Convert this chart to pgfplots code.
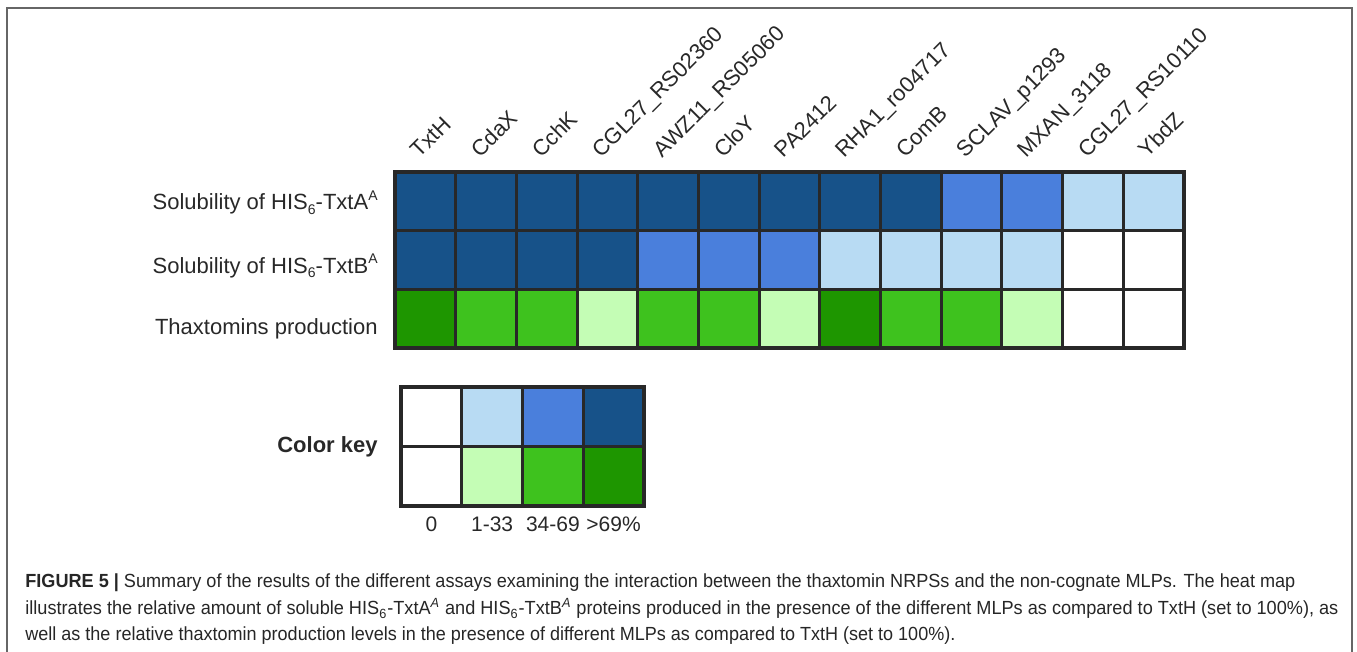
\documentclass[border=0pt]{standalone}
\usepackage{fontspec}
\setmainfont{Liberation Sans}
\usepackage{graphicx}
\usepackage{pgfplots}
\usepackage{pgfplotstable}
\pgfplotsset{compat=1.18}

\definecolor{gridc}{RGB}{40,40,40}
\definecolor{txt}{RGB}{40,40,40}

\newcommand{\sbs}[1]{\raisebox{-0.35ex}{\fontsize{7}{7}\selectfont #1}}
\newcommand{\sps}[1]{\raisebox{0.85ex}{\fontsize{7}{7}\selectfont #1}}

% codes: 0 white; 1,2,3 blues (1-33, 34-69, >69%); 4,5,6 greens (1-33, 34-69, >69%)
\pgfplotstableread{
x y c
0 0 6
1 0 5
2 0 5
3 0 4
4 0 5
5 0 5
6 0 4
7 0 6
8 0 5
9 0 5
10 0 4
11 0 0
12 0 0
0 1 3
1 1 3
2 1 3
3 1 3
4 1 2
5 1 2
6 1 2
7 1 1
8 1 1
9 1 1
10 1 1
11 1 0
12 1 0
0 2 3
1 2 3
2 2 3
3 2 3
4 2 3
5 2 3
6 2 3
7 2 3
8 2 3
9 2 2
10 2 2
11 2 1
12 2 1
}\heat

\pgfplotstableread{
x y c
0 0 0
1 0 4
2 0 5
3 0 6
0 1 0
1 1 1
2 1 2
3 1 3
}\keytab

\pgfplotsset{
  heatstyle/.style={
    scale only axis,
    axis on top,
    colormap={key}{rgb255=(255,255,255) rgb255=(184,219,243) rgb255=(74,127,220) rgb255=(23,82,137) rgb255=(196,253,181) rgb255=(62,194,30) rgb255=(30,150,0)},
    colormap access=direct,
    point meta=explicit,
    major tick length=0pt, minor tick length=0pt,
    xminorgrids=true, yminorgrids=true,
    minor grid style={line width=1.5pt, draw=gridc},
    axis line style={line width=2pt, draw=gridc},
    tick label style={font=\fontsize{11}{13}\selectfont, text=txt},
  }
}

\begin{document}
\begin{tikzpicture}
\path[use as bounding box] (0,0) rectangle (678.5pt,326pt);
\draw[line width=1pt, draw=black!60] (3.5pt,0pt) -- (3.5pt,322pt) -- (676pt,322pt) -- (676pt,0pt);

\begin{axis}[heatstyle,
  at={(197.5pt,152pt)}, anchor=south west,
  width=394.5pt, height=88pt,
  xmin=-0.5, xmax=12.5, ymin=-0.5, ymax=2.5,
  xtick={0,...,12},
  xticklabels={TxtH,CdaX,CchK,CGL27\_RS02360,AWZ11\_RS05060,CloY,PA2412,RHA1\_ro04717,ComB,SCLAV\_p1293,MXAN\_3118,CGL27\_RS10110,YbdZ},
  xticklabel pos=upper,
  xticklabel style={inner sep=0pt, xshift=-3pt, yshift=6.5pt, rotate=45, anchor=base west},
  ytick={-0.17,0.9,1.98},
  yticklabels={Thaxtomins production,Solubility of HIS\sbs{6}-TxtB\sps{A},Solubility of HIS\sbs{6}-TxtA\sps{A}},
  yticklabel style={inner sep=0pt, xshift=-8.5pt, anchor=east},
  minor xtick={-0.5,0.5,...,12.5},
  minor ytick={-0.5,0.5,1.5,2.5},
]
\addplot[matrix plot*, mesh/cols=13, point meta=explicit] table[x=x, y=y, meta=c] {\heat};
\end{axis}

\begin{axis}[heatstyle,
  at={(200.5pt,73pt)}, anchor=south west,
  width=121.5pt, height=59.5pt,
  xmin=-0.5, xmax=3.5, ymin=-0.5, ymax=1.5,
  xtick={0,1,2,3},
  xticklabels={0,1-33,34-69,>69\%},
  xticklabel style={inner sep=0pt, yshift=-5pt, anchor=north, font=\fontsize{10.5}{12}\selectfont},
  ytick={0.5},
  yticklabels={\textbf{Color key}},
  yticklabel style={inner sep=0pt, xshift=-11.5pt, anchor=east},
  minor xtick={-0.5,0.5,...,3.5},
  minor ytick={-0.5,0.5,1.5},
]
\addplot[matrix plot*, mesh/cols=4, point meta=explicit] table[x=x, y=y, meta=c] {\keytab};
\end{axis}

\begin{scope}[every node/.style={inner sep=0pt, anchor=base west, text=black!85, font=\fontsize{9.5}{11}\selectfont}]
\node at (12.5pt,32pt) {\resizebox{635pt}{\height}{\textbf{FIGURE 5 |} Summary of the results of the different assays examining the interaction between the thaxtomin NRPSs and the non-cognate MLPs. The heat map}};
\node at (12.5pt,18.5pt) {\resizebox{656.5pt}{\height}{illustrates the relative amount of soluble HIS\textsubscript{6}-TxtA\textsuperscript{\itshape A} and HIS\textsubscript{6}-TxtB\textsuperscript{\itshape A} proteins produced in the presence of the different MLPs as compared to TxtH (set to 100\%), as}};
\node at (12.5pt,5.5pt) {\resizebox{465pt}{\height}{well as the relative thaxtomin production levels in the presence of different MLPs as compared to TxtH (set to 100\%).}};
\end{scope}
\end{tikzpicture}
\end{document}
